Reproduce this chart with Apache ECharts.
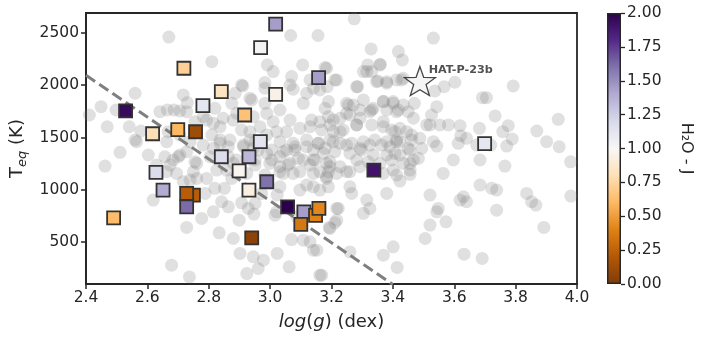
<!DOCTYPE html>
<html><head><meta charset="utf-8">
<script src="https://cdn.jsdelivr.net/npm/echarts@6/dist/echarts.min.js"></script>
<style>html,body{margin:0;padding:0;background:#fff}#c{width:703px;height:341px}</style>
</head><body><div id="c"></div>
<script>
// gray background sample: [log(g), Teq]
const grayPoints = [
[2.67,2460],[3.067,2475],[3.156,2475],[3.274,2634],[3.532,2450],[3.329,2347],[3.418,2321],[3.431,2242],[3.179,2168],[3.318,2194],[3.359,2200],[3.304,2130],[3.331,2130],[3.211,2050],[3.351,2040],[3.38,2019],[3.285,1986],[3.428,2050],[3.537,1945],[3.567,1986],[3.602,2028],[3.792,1993],[3.692,1881],[3.705,1881],[3.939,1674],[3.733,1706],[3.869,1562],[3.901,1460],[3.942,1412],[3.776,1613],[3.789,1486],[3.758,1556],[3.682,1588],[3.619,1613],[3.621,1517],[3.64,1492],[3.673,1428],[3.719,1428],[3.581,1620],[3.553,1620],[3.526,1715],[3.521,1620],[3.543,1795],[3.47,1827],[3.434,1811],[3.45,1747],[3.412,1747],[3.369,1843],[3.401,1843],[3.304,1859],[3.336,1779],[3.271,1811],[3.249,1827],[3.26,1715],[3.293,1684],[3.325,1747],[3.369,1651],[3.396,1572],[3.423,1588],[3.461,1524],[3.488,1492],[3.51,1620],[3.532,1460],[3.494,1397],[3.45,1397],[3.412,1460],[3.363,1428],[3.325,1428],[3.293,1397],[3.249,1428],[3.228,1556],[3.206,1460],[3.195,1620],[3.179,1779],[3.206,1667],[3.228,1684],[3.282,1620],
[3.39,1412],[3.423,1460],[3.543,1418],[3.613,1444],[3.771,1418],[3.979,1268],[3.98,940],[3.597,1285],[3.684,1285],[3.765,1227],[3.564,1157],[3.483,1301],[3.456,1253],[3.456,1148],[3.423,1084],[3.401,1189],[3.407,1349],[3.38,966],[3.304,775],[3.325,822],[3.315,902],[3.26,1029],[3.266,966],[3.293,1221],[3.249,1173],[3.195,1221],[3.184,1125],[3.19,1029],[3.222,822],[3.217,710],[3.195,631],[3.26,407],[3.168,184],[3.369,375],[3.401,455],[3.414,258],[3.505,535],[3.521,663],[3.543,790],[3.573,694],[3.548,822],[3.521,950],[3.619,902],[3.64,886],[3.63,934],[3.684,1045],[3.722,1014],[3.738,998],[3.738,806],[3.836,966],[3.852,886],[3.866,854],[3.892,641],[3.632,385],[3.691,344],
[2.511,1358],[2.462,1227],[2.603,1333],[2.619,902],[2.565,1460],[2.657,1316],[2.674,1237],[2.706,1333],[2.695,1157],[2.739,1093],[2.761,1109],[2.793,1109],[2.788,966],[2.777,727],[2.728,641],[2.679,280],[2.737,168],[2.815,790],[2.834,589],[2.842,886],[2.864,838],[2.82,1014],[2.851,1014],[2.88,535],[2.899,710],[2.907,876],[2.929,822],[2.947,768],[2.902,392],[2.945,360],[2.924,200],[2.961,248],[2.978,328],[3.023,392],[3.062,264],[3.07,525],[3.087,742],[3.108,519],[3.13,503],[3.141,423],[3.162,184],[3.193,641],[3.211,685],[3.217,822],[3.021,790],[3.016,758],[3.023,950],[3.032,1029],[2.972,966],[2.951,870],[2.983,1141],[3.032,1173],[3.075,1157],[3.059,1237],[3.097,998],[3.119,1045],[3.141,1029],[3.162,998],[3.184,1109],[3.141,1157],[3.13,1237],[3.092,1301],[3.141,1285],[3.184,1253],[3.19,1173],[3.157,1444],[3.173,1349],[3.119,1412],[3.081,1412],[3.054,1380],[3.032,1316],[2.989,1349],[3.005,1285],[2.951,1237],[2.924,1157],[2.875,1109],[2.858,1189],[2.88,1253],[2.826,1189],[2.804,1316],[2.761,1253],[2.75,1173],[2.717,1077],[2.837,1444],[2.864,1412],[2.913,1428],[2.945,1397],[3.152,423],
[2.56,1923],[2.449,1795],[2.411,1715],[2.498,1763],[2.469,1603],[2.541,1603],[2.579,1562],[2.641,1747],[2.665,1763],[2.687,1763],[2.706,1754],[2.728,1747],[2.717,1907],[2.73,1833],[2.755,1651],[2.793,1667],[2.815,1636],[2.82,1779],[2.875,1827],[2.886,1923],[2.911,1993],[2.94,1859],[2.891,1731],[2.847,1684],[2.81,2225],[2.56,1476],[2.663,1460],[2.668,1556],[2.706,1524],[2.739,1460],[2.728,1364],[2.755,1268],[2.684,1285],[2.701,1316],[2.782,1428],[2.815,1397],[2.837,1476],[2.869,1476],[2.864,1316],[2.891,1285],[2.913,1412],[2.934,1556],[2.951,1460],[2.907,1572],[2.88,1667],[2.837,1603],[2.81,1524],[2.782,1699],[2.663,1173],[2.63,1237],
[2.991,2194],[3.01,2130],[3.106,2194],[3.184,2162],[3.217,2050],[3.07,2082],[3.13,2050],[3.282,1986],[3.315,2130],[3.358,2194],[3.347,2034],[3.38,2034],[3.412,2050],[3.434,2066],[2.983,1971],[2.907,2002],[2.934,1875],[3.075,1961],[3.119,1923],[3.162,1955],[3.108,1827],[3.19,1843],[3.255,1811],[3.369,1843],[3.401,1827],[3.461,1476],[2.983,1827],[2.989,1731],[3.032,1763],[3.065,1667],[3.01,1651],[2.967,1603],[2.945,1699],[3.135,1667],[3.162,1651],[3.19,1699],[3.249,1731],[3.293,1763],[3.331,1763],[3.38,1763],[3.418,1763],[3.467,1684],[3.445,1556],[3.407,1556],[3.369,1603],[3.331,1620],[3.282,1620],[3.238,1572],[3.206,1556],[3.168,1572],[3.13,1603],[3.097,1588],[3.054,1556],[3.021,1556],[2.989,1524],[2.934,1476],[3.032,1460],[3.075,1444],[3.119,1476],[3.157,1444],[3.195,1476],[3.228,1444],[3.266,1444],[3.304,1460],[3.341,1476],[3.38,1460],[3.412,1476],[2.961,1380],[3.005,1380],[3.043,1364],[3.081,1380],[3.141,1380],[3.179,1397],[3.211,1364],[3.26,1349],[3.298,1380],[3.336,1333],[3.38,1333],[3.423,1333],[3.456,1380],[2.951,1285],[2.999,1253],[3.032,1221],[3.065,1253],[3.108,1285],[3.146,1285],[3.195,1268],[3.228,1221],[3.282,1285],[3.32,1268],[3.358,1253],[3.396,1285],[3.434,1253],[3.467,1285],[3.043,1157],[3.097,1173],[3.162,1173],[3.217,1157],[3.26,1173],[3.369,1157],[3.412,1141],[3.456,1189],
[3.186,1986],[3.141,1971],[3.065,2002],[2.983,2025]
];
// coloured targets
const squareLogg = [2.529,2.617,2.699,2.757,2.719,2.841,2.781,2.917,2.969,3.018,3.018,3.158,2.968,2.841,2.931,2.628,2.651,2.899,2.931,2.989,2.750,2.728,2.728,2.490,2.940,3.057,3.110,3.100,3.148,3.159,3.338,3.699];
const squareTeq  = [1754,1536,1575,1555,2162,1938,1804,1715,2359,2583,1913,2072,1460,1316,1316,1167,998,1182,998,1077,950,966,838,732,541,838,790,669,755,822,1189,1441];
const squareH2O  = [1.95,0.80,0.60,0.12,0.72,0.83,1.12,0.65,1.03,1.45,0.95,1.45,1.13,1.18,1.35,1.18,1.40,0.98,0.93,1.60,0.22,0.22,1.62,0.62,0.05,2.00,1.45,0.35,0.40,0.42,1.90,1.12];
const starPoint = [3.488, 2025];
const starName = 'HAT-P-23b';
const trendLine = [[2.4, 2095], [3.4, 95]];
const xMin = 2.4, xMax = 4.0, xStep = 0.2;
const yMin = 100, yMax = 2690;
const yTickValues = [500, 1000, 1500, 2000, 2500];
const cbMin = 0, cbMax = 2, cbStep = 0.25;
const puor = ['#7f3b08','#b35806','#e08214','#fdb863','#fee0b6','#f7f7f7','#d8daeb','#b2abd2','#8073ac','#542788','#2d004b'];

const FONT = 'DejaVu Sans';
const INK = '#262626';
const chart = echarts.init(document.getElementById('c'), null, {renderer: 'canvas'});
const stops = puor.map((c, i) => ({offset: i / (puor.length - 1), color: c}));
const starPath = 'path://M0,-10L2.35,-3.24L9.51,-3.09L3.8,1.24L5.88,8.09L0,4.5L-5.88,8.09L-3.8,1.24L-9.51,-3.09L-2.35,-3.24Z';

chart.setOption({
  animation: false,
  backgroundColor: '#fff',
  textStyle: {fontFamily: FONT},
  grid: [
    {left: 86, right: 126, top: 13, bottom: 57, outerBoundsMode: 'none', containLabel: false, show: true, borderColor: INK, borderWidth: 1.8, backgroundColor: 'transparent'},
    {left: 607, width: 14, top: 13, height: 271, outerBoundsMode: 'none', containLabel: false}
  ],
  visualMap: [{
    type: 'continuous', show: false, seriesIndex: 2, dimension: 2,
    min: cbMin, max: cbMax, inRange: {color: puor}
  }],
  xAxis: [
    {type: 'value', gridIndex: 0, min: xMin, max: xMax, interval: xStep,
     axisLine: {show: true, lineStyle: {color: INK, width: 1.8}},
     axisTick: {show: true, length: 5, lineStyle: {color: INK, width: 1.5}},
     splitLine: {show: false},
     axisLabel: {color: INK, fontSize: 15.5, fontFamily: FONT, margin: 6, formatter: v => v.toFixed(1)},
     name: '{i|log}{n|(}{i|g}{n|) (dex)}', nameLocation: 'middle', nameGap: 29,
     nameTextStyle: {color: INK, fontSize: 18, fontFamily: FONT,
       rich: {i: {fontStyle: 'italic', fontSize: 18, color: INK, fontFamily: FONT}, n: {fontSize: 18, color: INK, fontFamily: FONT}}}
    },
    {type: 'category', gridIndex: 1, data: ['cb'], show: false}
  ],
  yAxis: [
    {type: 'value', gridIndex: 0, min: yMin, max: yMax,
     axisLine: {show: true, lineStyle: {color: INK, width: 1.8}},
     axisTick: {show: true, length: 5, lineStyle: {color: INK, width: 1.5}, customValues: yTickValues},
     splitLine: {show: false},
     axisLabel: {color: INK, fontSize: 15.5, fontFamily: FONT, margin: 7, customValues: yTickValues, formatter: v => String(v)},
     name: '{t|T}{s|eq}{t| (K)}', nameLocation: 'middle', nameGap: 52, nameRotate: 90,
     nameTextStyle: {color: INK, fontSize: 18, fontFamily: FONT,
       rich: {t: {fontSize: 18, color: INK, fontFamily: FONT}, s: {fontSize: 13, fontStyle: 'italic', color: INK, fontFamily: FONT, padding: [9, 0, 0, 0]}}}
    },
    {type: 'value', gridIndex: 1, min: cbMin, max: cbMax, interval: cbStep, position: 'right',
     axisLine: {show: false},
     axisTick: {show: true, length: 4, lineStyle: {color: INK, width: 1.3}},
     splitLine: {show: false},
     axisLabel: {color: INK, fontSize: 15.5, fontFamily: FONT, margin: 6, formatter: v => v.toFixed(2)},
     name: 'H₂O - J', nameLocation: 'middle', nameGap: 57, nameRotate: -90,
     nameTextStyle: {color: INK, fontSize: 16, fontFamily: FONT}
    }
  ],
  series: [
    {type: 'scatter', xAxisIndex: 0, yAxisIndex: 0, data: grayPoints, symbol: 'circle', symbolSize: 13,
     itemStyle: {color: 'rgba(128,128,128,0.3)'}, silent: true, z: 1},
    {type: 'line', xAxisIndex: 0, yAxisIndex: 0, data: trendLine, symbol: 'none', clip: true,
     lineStyle: {color: '#7f7f7f', width: 3, type: [11, 5]}, z: 2},
    {type: 'scatter', xAxisIndex: 0, yAxisIndex: 0,
     data: squareLogg.map((x, i) => [x, squareTeq[i], squareH2O[i]]),
     symbol: 'rect', symbolSize: 13, itemStyle: {borderColor: '#333', borderWidth: 1.8, opacity: 1}, z: 3},
    {type: 'scatter', xAxisIndex: 0, yAxisIndex: 0, data: [starPoint], symbol: starPath, symbolSize: [31, 29],
     symbolOffset: [0, -1.5],
     itemStyle: {color: '#f2f2f2', borderColor: '#1a1a1a', borderWidth: 1.3}, z: 4,
     label: {show: true, formatter: starName, position: [25, 4], align: 'left', verticalAlign: 'middle',
       fontSize: 11.2, fontWeight: 'bold', color: INK, fontFamily: FONT}},
    {type: 'bar', xAxisIndex: 1, yAxisIndex: 1, data: [cbMax], barWidth: '100%',
     itemStyle: {color: new echarts.graphic.LinearGradient(0, 1, 0, 0, stops), borderColor: INK, borderWidth: 1.5},
     silent: true}
  ]
});
</script></body></html>
